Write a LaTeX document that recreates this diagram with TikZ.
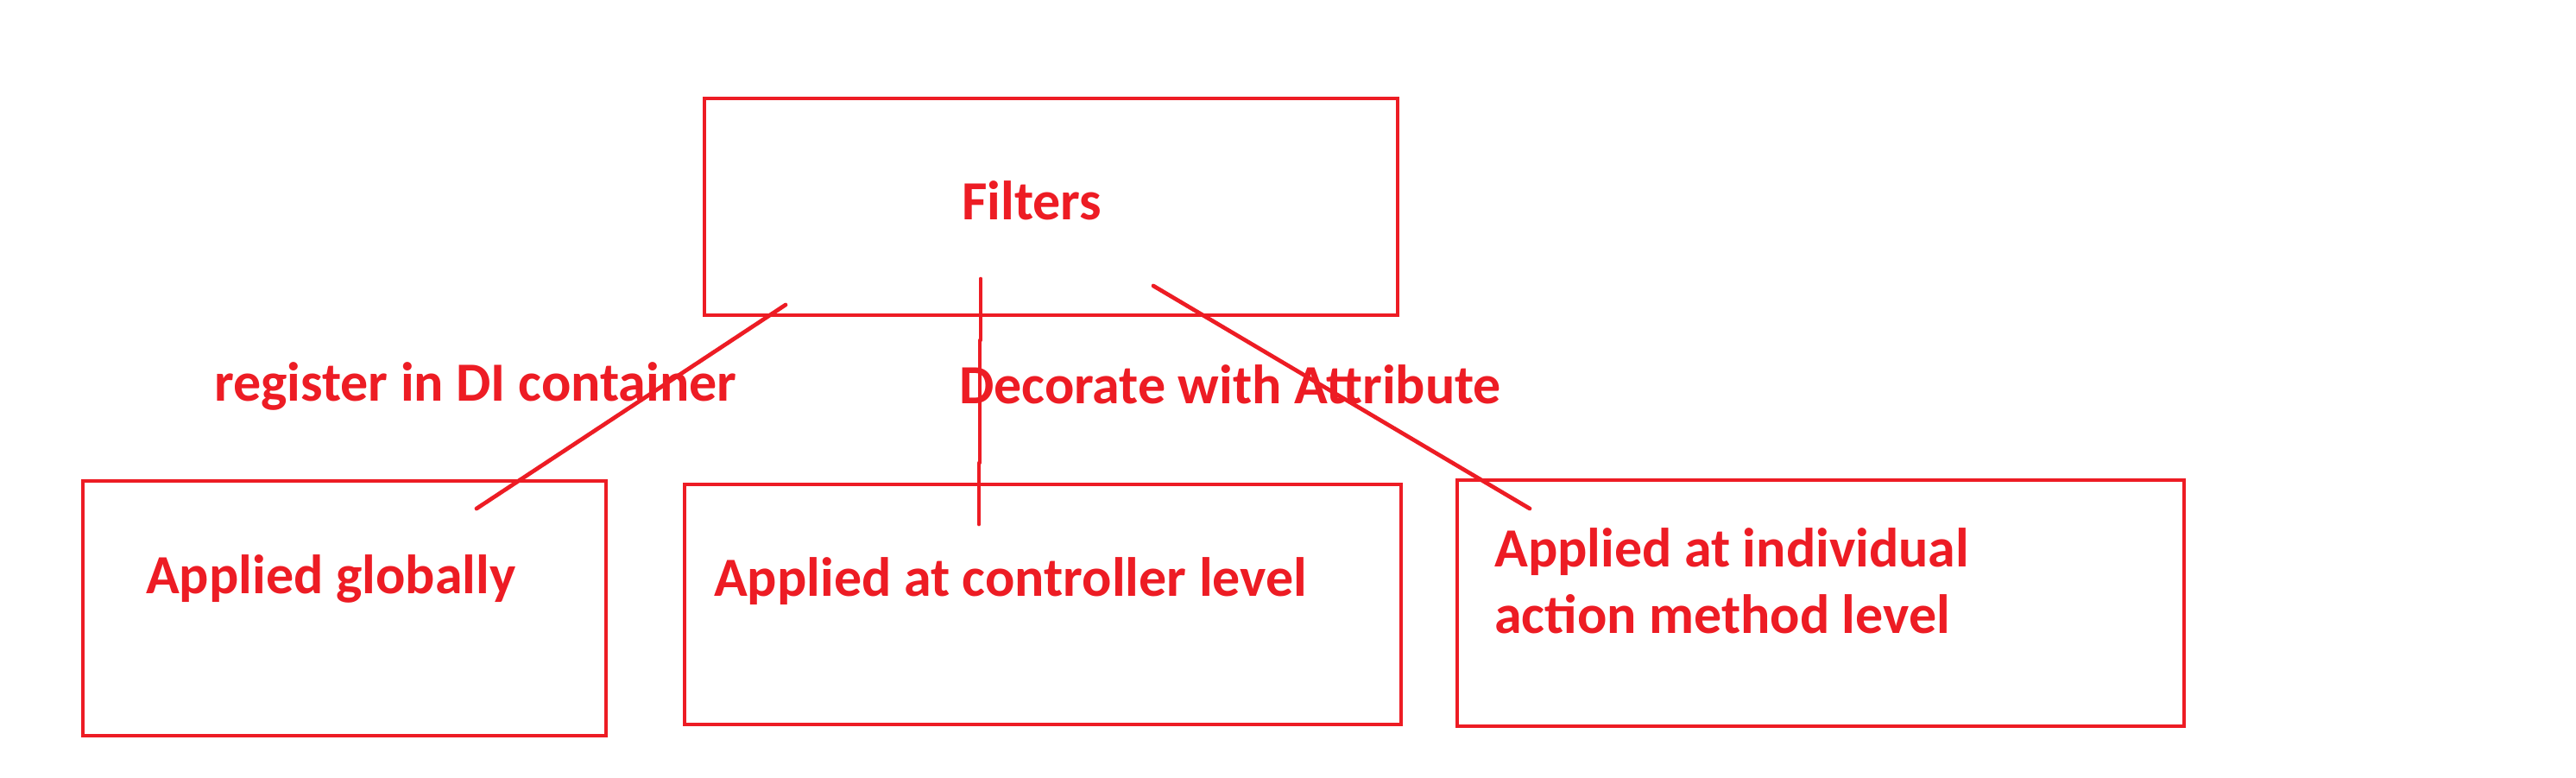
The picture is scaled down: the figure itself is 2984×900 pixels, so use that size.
\documentclass[tikz,border=0pt]{standalone}
\usepackage{fontspec}
\setmainfont{Carlito}
\definecolor{pred}{HTML}{ED1C24}
\begin{document}
\begin{tikzpicture}[x=1pt,y=-1pt,
  box/.style={draw=pred,line width=4.8pt,rectangle,inner sep=0pt,outer sep=0pt},
  lbl/.style={text=pred,font=\fontsize{64}{77}\selectfont\bfseries,inner sep=0pt,anchor=base west},
  conn/.style={draw=pred,line width=4.7pt,line cap=round,line join=round}]
\useasboundingbox[fill=white] (0,0) rectangle (2984,900);
% boxes
\node[box,minimum width=803pt,minimum height=251pt] (filters) at (1217.5,239.5) {};
\node[box,minimum width=606pt,minimum height=295pt] (global) at (399,704.5) {};
\node[box,minimum width=830pt,minimum height=278pt] (ctrl) at (1208,700) {};
\node[box,minimum width=842pt,minimum height=285pt] (action) at (2109,698.5) {};
% texts
\node[lbl] (tfilters) at (1114,254) {Filters};
\node[lbl] (tglobal) at (169,687) {Applied globally};
\node[lbl] (tctrl) at (827,690) {Applied at controller level};
\node[lbl] (tact1) at (1731,656) {Applied at individual};
\node[lbl] (tact2) at (1731,733) {action method level};
\node[lbl] (treg) at (248,464) {register in DI container};
\node[lbl] (tdec) at (1111,467) {Decorate with Attribute};
% connector end points
\coordinate (a1) at (910,353);
\coordinate (a2) at (552,589);
\coordinate (b1) at (1136,323);
\coordinate (b2) at (1134,607);
\coordinate (c1) at (1336,331);
\coordinate (c2) at (1772,589);
% connectors
\draw[conn] (a1) -- (a2);
\draw[conn] (b1) -- (1136,394) -- (1135,394) -- (1135,536) -- (1134,536) -- (b2);
\draw[conn] (c1) -- (c2);
\end{tikzpicture}
\end{document}
